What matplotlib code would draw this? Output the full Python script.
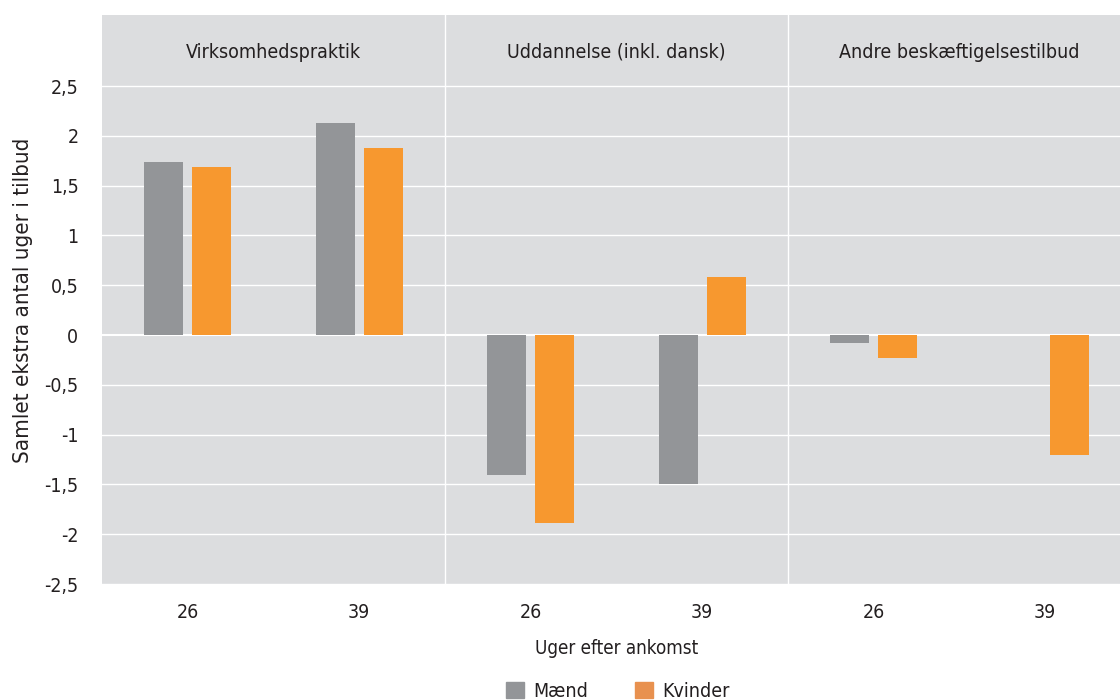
import numpy as np
import matplotlib
matplotlib.use("Agg")
import matplotlib.pyplot as plt
from matplotlib.patches import Patch

plt.rcParams['font.family'] = ['DejaVu Sans']
plt.rcParams['font.stretch'] = 'condensed'

# data
panels = ['Virksomhedspraktik', 'Uddannelse (inkl. dansk)', 'Andre beskæftigelsestilbud']
weeks = ['26', '39', '26', '39', '26', '39']
maend = [1.74, 2.13, -1.41, -1.50, -0.08, 0.0]
kvinder = [1.69, 1.88, -1.89, 0.58, -0.23, -1.20]
yticks = [-2.5, -2, -1.5, -1, -0.5, 0, 0.5, 1, 1.5, 2, 2.5]

GRAY = '#939598'
ORANGE = '#f7982f'
BG = '#dcdddf'
TXT = '#231f20'

fig = plt.figure(figsize=(11.2, 7), dpi=100)
ax = fig.add_axes([102 / 1120, 115 / 700, 1029 / 1120, 570 / 700])
ax.set_facecolor(BG)

x = np.arange(len(weeks))
w = 0.225
ax.bar(x - 0.14, maend, width=w, color=GRAY, zorder=3)
ax.bar(x + 0.14, kvinder, width=w, color=ORANGE, zorder=3)

ax.set_xlim(-0.5, len(weeks) - 0.5)
ax.set_ylim(-2.51, 3.213)
ax.set_yticks(yticks)
ax.set_yticklabels([('%g' % v).replace('.', ',') for v in yticks])
for v in yticks:
    ax.axhline(v, color='white', lw=1.5 if v == 0 else 1.0, zorder=1)

# panel separators and titles
for sep in [1.5, 3.5]:
    ax.axvline(sep, color='white', lw=1.0, zorder=1)
for i, name in enumerate(panels):
    ax.text(2 * i + 0.5, 2.84, name, ha='center', va='center', fontsize=14, color=TXT)

ax.set_xticks(x)
ax.set_xticklabels(weeks)
ax.tick_params(axis='both', length=0, labelsize=14, labelcolor=TXT)
ax.tick_params(axis='x', pad=13)
ax.tick_params(axis='y', pad=17)
for s in ax.spines.values():
    s.set_visible(False)

ax.set_xlabel('Uger efter ankomst', fontsize=13.5, color=TXT, labelpad=12)
ax.set_ylabel('Samlet ekstra antal uger i tilbud', fontsize=16, color=TXT, labelpad=8)

handles = [Patch(color=GRAY, label='Mænd'), Patch(color='#e8914f', label='Kvinder')]
fig.legend(handles=handles, loc='upper center', bbox_to_anchor=(618 / 1120, 32 / 700),
           ncol=2, frameon=False, fontsize=14, handlelength=0.9, handleheight=0.9,
           columnspacing=2.4, handletextpad=0.5, labelcolor=TXT, borderpad=0.2)

fig.savefig('out.png', dpi=100)
